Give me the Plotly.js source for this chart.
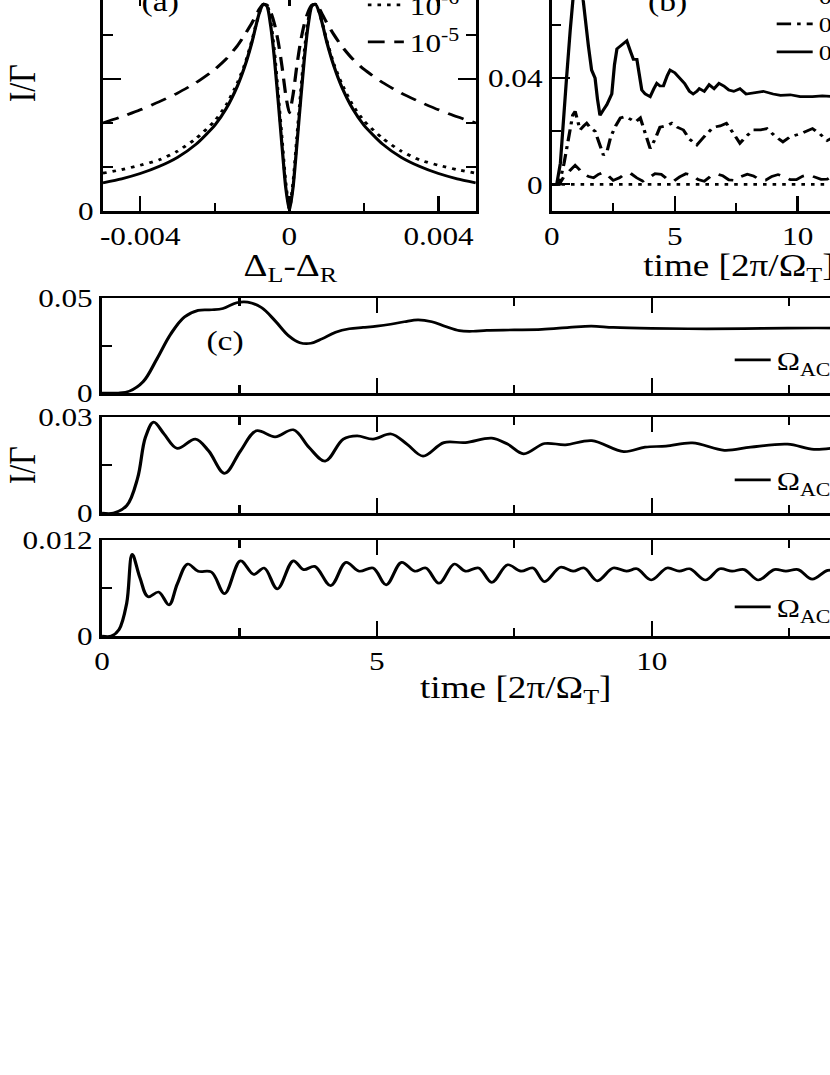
<!DOCTYPE html>
<html>
<head>
<meta charset="utf-8">
<script src="https://cdn.plot.ly/plotly-3.0.1.min.js"></script>
<style>
html,body{margin:0;padding:0;overflow:hidden;background:#fff;width:830px;height:1075px;}
#chart{position:absolute;left:0;top:-100px;width:833px;height:1175px;transform:scaleX(1.2);transform-origin:0 0;}
</style>
</head>
<body>
<div id="chart"></div>
<script>
// ---------- panel (a): current vs detuning ----------
const detuning = [-0.005,-0.0045,-0.004,-0.0035,-0.003,-0.0025,-0.002,-0.0017,-0.0014,-0.0012,-0.001,-0.0009,-0.0008,-0.0007,-0.0006,-0.0005,-0.0004,-0.0003,-0.0002,-0.0001,0,0.0001,0.0002,0.0003,0.0004,0.0005,0.0006,0.0007,0.0008,0.0009,0.001,0.0012,0.0014,0.0017,0.002,0.0025,0.003,0.0035,0.004,0.0045,0.005];
const aSolid  = [0.0064,0.0073,0.0085,0.0101,0.0122,0.0152,0.0195,0.0232,0.0283,0.0328,0.0385,0.0420,0.0452,0.0470,0.0465,0.0420,0.0345,0.0250,0.0150,0.0055,0.0,0.0055,0.0150,0.0250,0.0345,0.0420,0.0465,0.0470,0.0452,0.0420,0.0385,0.0328,0.0283,0.0232,0.0195,0.0152,0.0122,0.0101,0.0085,0.0073,0.0064];
const aDotted = [0.0086,0.0094,0.0104,0.0116,0.0136,0.0165,0.0205,0.0240,0.0290,0.0332,0.0388,0.0422,0.0452,0.0470,0.0468,0.0430,0.0360,0.0265,0.0165,0.0065,0.0005,0.0065,0.0165,0.0265,0.0360,0.0430,0.0468,0.0470,0.0452,0.0422,0.0388,0.0332,0.0290,0.0240,0.0205,0.0165,0.0136,0.0116,0.0104,0.0094,0.0086];
const aDashed = [0.0200,0.0214,0.0230,0.0248,0.0268,0.0292,0.0322,0.0345,0.0375,0.0400,0.0428,0.0444,0.0460,0.0470,0.0468,0.0452,0.0425,0.0385,0.0330,0.0265,0.0223,0.0265,0.0330,0.0385,0.0425,0.0452,0.0468,0.0470,0.0460,0.0444,0.0428,0.0400,0.0375,0.0345,0.0322,0.0292,0.0268,0.0248,0.0230,0.0214,0.0200];
const aLabels = ['10<sup>-7</sup>','10<sup>-6</sup>','10<sup>-5</sup>'];

// ---------- panel (b): current vs time ----------
const bSolidT = [0,0.2,0.35,0.5,0.6,0.75,0.87,1.0,1.1,1.2,1.28,1.4,1.49,1.62,1.76,1.86,1.96,2.1,2.24,2.44,2.55,2.65,2.8,3.05,3.2,3.32,3.46,3.56,3.66,3.8,4.0,4.15,4.27,4.4,4.54,4.7,4.81,5.0,5.2,5.4,5.6,5.75,5.9,6.0,6.2,6.4,6.6,6.8,7.0,7.2,7.4,7.65,7.9,8.2,8.6,9.0,9.3,9.7,10.1,10.6,11.0,11.5,12,12.5,13,13.5,14,14.5,15];
const bSolidV = [0,0,0.008,0.025,0.040,0.058,0.071,0.084,0.088,0.082,0.069,0.058,0.052,0.043,0.040,0.032,0.026,0.028,0.030,0.034,0.045,0.051,0.052,0.054,0.050,0.047,0.047,0.041,0.0355,0.034,0.033,0.036,0.038,0.037,0.037,0.041,0.043,0.042,0.040,0.038,0.035,0.034,0.035,0.036,0.035,0.0375,0.036,0.038,0.037,0.0355,0.035,0.036,0.034,0.0345,0.035,0.034,0.0335,0.0337,0.033,0.033,0.0333,0.033,0.033,0.033,0.0332,0.033,0.033,0.033,0.033];
const bDashDotT = [0,0.3,0.5,0.7,0.85,0.95,1.05,1.15,1.3,1.42,1.6,1.76,1.95,2.1,2.25,2.4,2.6,2.79,3.0,3.2,3.4,3.6,3.8,4.0,4.2,4.4,4.65,4.88,5.1,5.35,5.6,5.9,6.2,6.57,6.85,7.1,7.4,7.65,7.9,8.2,8.5,8.75,9.1,9.4,9.7,10.1,10.6,10.9,11.2,11.5,11.9,12.3,12.7,13.0,13.4,13.8,14.2,14.6,15];
const bDashDotV = [0,0,0.008,0.018,0.026,0.0275,0.024,0.0205,0.022,0.023,0.021,0.020,0.015,0.011,0.0125,0.018,0.022,0.025,0.0255,0.0245,0.0235,0.025,0.019,0.0135,0.017,0.0215,0.022,0.023,0.0215,0.0205,0.017,0.0148,0.018,0.0215,0.022,0.023,0.019,0.0155,0.018,0.0205,0.0205,0.021,0.018,0.016,0.018,0.019,0.021,0.019,0.0165,0.018,0.020,0.0205,0.018,0.0168,0.0185,0.020,0.0195,0.0175,0.0185];
const bDashedT = [0,0.3,0.5,0.75,0.95,1.1,1.3,1.5,1.7,1.9,2.1,2.3,2.5,2.75,3.0,3.2,3.45,3.7,3.95,4.2,4.45,4.7,4.95,5.2,5.45,5.7,5.95,6.2,6.45,6.7,6.95,7.2,7.45,7.7,7.95,8.2,8.45,8.7,8.95,9.2,9.45,9.7,9.95,10.2,10.45,10.7,10.95,11.2,11.45,11.7,12,12.3,12.6,12.9,13.2,13.5,13.8,14.1,14.4,14.7,15];
const bDashedV = [0,0,0.003,0.0055,0.0072,0.0058,0.0038,0.003,0.0025,0.0038,0.0045,0.0032,0.0015,0.0025,0.004,0.0042,0.0025,0.0012,0.0025,0.004,0.0038,0.002,0.0012,0.0028,0.004,0.0035,0.0018,0.0012,0.003,0.004,0.0033,0.0017,0.0015,0.003,0.0038,0.0032,0.0018,0.0016,0.003,0.0037,0.003,0.0018,0.0018,0.0031,0.0036,0.0028,0.0019,0.002,0.0032,0.0035,0.0027,0.002,0.0022,0.0032,0.0034,0.0026,0.002,0.0023,0.0032,0.0033,0.0026];
const bDottedT = [0,1,2,3,4,5,6,7,8,9,10,11,12,13,14,15];
const bDottedV = [0,0,0,0,0,0,0,0,0,0,0,0,0,0,0,0];
const bLabels = ['0','0.001','0.01','0.1'];

// ---------- panel (c): three driving frequencies ----------
const c1T = [0,0.3,0.5,0.75,1.0,1.25,1.5,1.75,2.0,2.2,2.45,2.65,2.9,3.15,3.4,3.6,3.8,4.0,4.25,4.5,4.75,5.0,5.25,5.5,5.75,6.0,6.25,6.5,6.75,7.0,7.5,8.0,8.5,8.9,9.3,10.0,11.0,12.0,13.0,14.0,15.0];
const c1V = [0,0,0.001,0.006,0.018,0.031,0.040,0.0435,0.0438,0.0445,0.0475,0.0478,0.045,0.038,0.030,0.0265,0.0262,0.0285,0.032,0.0338,0.0345,0.0352,0.0362,0.0375,0.0385,0.0375,0.035,0.0328,0.0325,0.033,0.0332,0.0335,0.0345,0.0352,0.0345,0.034,0.0338,0.034,0.0342,0.034,0.034];
const c2T = [0,0.21,0.45,0.65,0.79,0.94,1.13,1.37,1.70,1.94,2.23,2.52,2.81,3.15,3.48,3.77,4.06,4.39,4.64,4.93,5.26,5.55,5.84,6.22,6.61,7.09,7.38,7.67,8.05,8.43,8.91,9.49,9.88,10.26,10.74,11.32,11.8,12.47,12.95,13.4,13.9,14.4,15];
const c2V = [0,0,0.0023,0.011,0.0236,0.0284,0.0247,0.0202,0.0231,0.0194,0.0124,0.0194,0.0257,0.0238,0.026,0.0204,0.0162,0.0231,0.0241,0.0231,0.0247,0.0215,0.0178,0.022,0.022,0.0234,0.0215,0.0185,0.0217,0.0213,0.0226,0.0192,0.0206,0.0209,0.0219,0.0196,0.0206,0.0215,0.0199,0.0205,0.0212,0.020,0.0207];
const c3T = [0,0.17,0.31,0.45,0.55,0.69,0.84,1.03,1.22,1.37,1.56,1.75,1.99,2.23,2.52,2.76,2.95,3.19,3.48,3.67,3.87,4.16,4.44,4.68,4.93,5.17,5.45,5.69,5.89,6.13,6.41,6.61,6.85,7.09,7.38,7.62,7.84,8.05,8.34,8.57,8.77,9.01,9.30,9.54,9.73,9.99,10.28,10.5,10.69,10.98,11.24,11.46,11.68,11.94,12.23,12.44,12.66,12.92,13.2,13.45,13.7,13.95,14.25,14.5,14.7,15];
const c3V = [0,0,0.0008,0.0041,0.0102,0.0073,0.0049,0.0055,0.0039,0.0065,0.009,0.0081,0.008,0.0053,0.0094,0.0077,0.0085,0.0059,0.0094,0.0083,0.0087,0.0063,0.0092,0.0081,0.0085,0.0064,0.0092,0.0081,0.0085,0.0066,0.009,0.0081,0.0085,0.0067,0.0089,0.0081,0.0085,0.0068,0.0086,0.0081,0.0085,0.0069,0.0085,0.0081,0.0084,0.007,0.0085,0.0081,0.0084,0.007,0.0084,0.0081,0.0083,0.007,0.0083,0.0081,0.0083,0.0071,0.0082,0.0081,0.0083,0.0071,0.0083,0.0081,0.0083,0.0072];
const cLabels = ['Ω<sub>AC</sub> = 0.5 Ω<sub>T</sub>','Ω<sub>AC</sub> = Ω<sub>T</sub>','Ω<sub>AC</sub> = 2 Ω<sub>T</sub>'];

// ---------- layout helpers (page pixel -> paper fraction) ----------
const T = 100, H = 1175, PW = 1000;
const px = x => x / PW;
const py = y => 1 - (y + T) / H;
const FONT = 'Liberation Serif';
const BLACK = '#000';
const LW = 2.7;

function line(dash, sm){ return {color: BLACK, width: LW, dash: dash, shape: 'spline', smoothing: sm || 0.6}; }
function legendAt(xp, yp, size){
  return {x: px(xp), y: py(yp), xanchor: 'left', yanchor: 'middle', bgcolor: 'rgba(0,0,0,0)',
          borderwidth: 0, font: {family: FONT, size: size || 26, color: BLACK}, itemwidth: 30};
}
function axisBase(){
  return {showline: true, linecolor: BLACK, linewidth: 2.5, mirror: 'ticks', ticks: 'inside',
          ticklen: 15, tickwidth: 2, tickcolor: BLACK, showgrid: false, zeroline: false,
          tickfont: {family: FONT, size: 26, color: BLACK}, fixedrange: true};
}
function ax(extra){ return Object.assign(axisBase(), extra); }
function minor(vals){ return {tickmode: 'array', tickvals: vals, ticks: 'inside', ticklen: 8, tickwidth: 2, tickcolor: BLACK, showgrid: false}; }
function note(text, xp, yp, size, angle){
  return {text: text, x: px(xp), y: py(yp), xref: 'paper', yref: 'paper', xanchor: 'center', yanchor: 'middle',
          showarrow: false, textangle: angle || 0, font: {family: FONT, size: size, color: BLACK}};
}

const DOT = '3px,5px', DASH = '14px,8px', DASHDOT = '12px,5px,3px,5px';

const traces = [
  {x: detuning, y: aSolid, xaxis: 'x', yaxis: 'y', mode: 'lines', line: line('solid'), name: aLabels[0], legend: 'legend'},
  {x: detuning, y: aDotted, xaxis: 'x', yaxis: 'y', mode: 'lines', line: line(DOT), name: aLabels[1], legend: 'legend2'},
  {x: detuning, y: aDashed, xaxis: 'x', yaxis: 'y', mode: 'lines', line: line(DASH), name: aLabels[2], legend: 'legend3'},
  {x: bDottedT, y: bDottedV, xaxis: 'x2', yaxis: 'y2', mode: 'lines', line: {color: BLACK, width: LW, dash: DOT}, name: bLabels[0], legend: 'legend4'},
  {x: bDashedT, y: bDashedV, xaxis: 'x2', yaxis: 'y2', mode: 'lines', line: {color: BLACK, width: LW, dash: DASH}, name: bLabels[1], legend: 'legend5'},
  {x: bDashDotT, y: bDashDotV, xaxis: 'x2', yaxis: 'y2', mode: 'lines', line: {color: BLACK, width: LW, dash: DASHDOT}, name: bLabels[2], legend: 'legend6'},
  {x: bSolidT, y: bSolidV, xaxis: 'x2', yaxis: 'y2', mode: 'lines', line: {color: BLACK, width: LW}, name: bLabels[3], legend: 'legend7'},
  {x: c1T, y: c1V, xaxis: 'x3', yaxis: 'y3', mode: 'lines', line: line('solid', 1.0), name: cLabels[0], legend: 'legend8'},
  {x: c2T, y: c2V, xaxis: 'x4', yaxis: 'y4', mode: 'lines', line: line('solid', 1.0), name: cLabels[1], legend: 'legend9'},
  {x: c3T, y: c3V, xaxis: 'x5', yaxis: 'y5', mode: 'lines', line: line('solid', 1.0), name: cLabels[2], legend: 'legend10'}
];

const cx = [px(102), px(927)];
const layout = {
  width: 833, height: 1175, margin: {l: 0, r: 0, t: 0, b: 0},
  paper_bgcolor: '#fff', plot_bgcolor: '#fff', showlegend: true,
  font: {family: FONT, color: BLACK},
  xaxis: ax({domain: [px(103), px(476)], anchor: 'y', range: [-0.005, 0.005], tickmode: 'array',
             tickvals: [-0.004, 0, 0.004], ticktext: ['-0.004', '0', '0.004'], minor: minor([-0.002, 0.002])}),
  yaxis: ax({domain: [py(211), py(-9)], anchor: 'x', range: [0, 0.05], tickmode: 'array',
             tickvals: [0, 0.03], ticktext: ['0', ''], minor: minor([0.01, 0.02, 0.04])}),
  xaxis2: ax({domain: [px(552), px(921)], anchor: 'y2', range: [0, 15], tickmode: 'array',
              tickvals: [0, 5, 10, 15], ticktext: ['0', '5', '10', '15'], minor: minor([2.5, 7.5, 12.5])}),
  yaxis2: ax({domain: [py(211), py(-81.5)], anchor: 'x2', range: [-0.01, 0.1], tickmode: 'array',
              tickvals: [0, 0.04, 0.08], ticktext: ['0', '0.04', '0.08'], minor: minor([0.02, 0.06])}),
  xaxis3: ax({domain: cx, anchor: 'y3', range: [0, 15], tickmode: 'array', tickvals: [0, 5, 10, 15],
              showticklabels: false, minor: minor([2.5, 7.5, 12.5])}),
  yaxis3: ax({domain: [py(393), py(298)], anchor: 'x3', range: [0, 0.05], tickmode: 'array',
              tickvals: [0, 0.05], ticktext: ['0', '0.05'], minor: minor([0.025])}),
  xaxis4: ax({domain: cx, anchor: 'y4', range: [0, 15], tickmode: 'array', tickvals: [0, 5, 10, 15],
              showticklabels: false, minor: minor([2.5, 7.5, 12.5])}),
  yaxis4: ax({domain: [py(513), py(417)], anchor: 'x4', range: [0, 0.03], tickmode: 'array',
              tickvals: [0, 0.03], ticktext: ['0', '0.03'], minor: minor([0.015])}),
  xaxis5: ax({domain: cx, anchor: 'y5', range: [0, 15], tickmode: 'array', tickvals: [0, 5, 10, 15],
              ticktext: ['0', '5', '10', '15'], minor: minor([2.5, 7.5, 12.5])}),
  yaxis5: ax({domain: [py(636), py(540)], anchor: 'x5', range: [0, 0.012], tickmode: 'array',
              tickvals: [0, 0.012], ticktext: ['0', '0.012'], minor: minor([0.006])}),
  legend: legendAt(362, -32), legend2: legendAt(362, 5), legend3: legendAt(362, 42),
  legend4: legendAt(771, -32, 22), legend5: legendAt(771, -4, 22), legend6: legendAt(771, 24, 22), legend7: legendAt(771, 52, 22),
  legend8: legendAt(729, 360), legend9: legendAt(729, 480), legend10: legendAt(729, 607),
  annotations: [
    note('(a)', 160, 2, 28),
    note('(b)', 668, 2, 28),
    note('(c)', 225, 340, 28),
    note('I/Γ', 22, 83, 32, -90),
    note('I/Γ', 22, 465, 32, -90),
    note('Δ<sub>L</sub>-Δ<sub>R</sub>', 290, 268, 31),
    note('time [2π/Ω<sub>T</sub>]', 740, 268, 31),
    note('time [2π/Ω<sub>T</sub>]', 516, 690, 31)
  ]
};

Plotly.newPlot('chart', traces, layout, {displayModeBar: false, staticPlot: true});
</script>
</body>
</html>
